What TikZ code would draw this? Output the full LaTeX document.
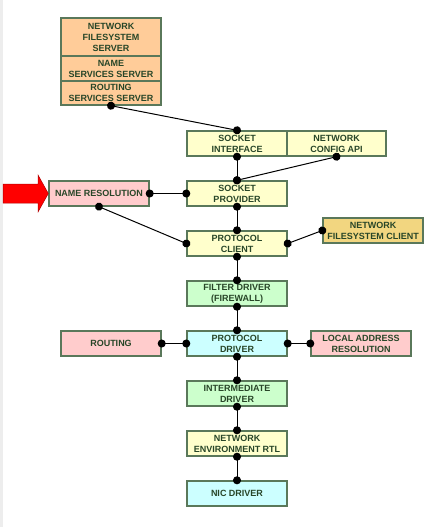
\documentclass[tikz,border=0pt]{standalone}
\usepackage{fontspec}
\setmainfont{Liberation Sans}
\usetikzlibrary{arrows.meta}
\definecolor{boxline}{RGB}{90,120,90}
\definecolor{boxtext}{RGB}{40,70,40}
\definecolor{peach}{RGB}{255,204,153}
\definecolor{cream}{RGB}{255,255,204}
\definecolor{rose}{RGB}{255,204,204}
\definecolor{mint}{RGB}{204,255,204}
\definecolor{aqua}{RGB}{204,255,255}
\definecolor{gold}{RGB}{242,214,128}

\tikzset{
  blk/.style={draw=boxline,line width=1.4pt,minimum width=100pt,minimum height=25pt,
    inner sep=0pt,align=center,text=boxtext,font=\fontsize{9}{11}\selectfont\bfseries},
  link/.style={line width=1pt,{Circle[length=8pt]}-{Circle[length=8pt]},
    shorten <=-4pt,shorten >=-4pt}
}

\begin{document}
\begin{tikzpicture}[x=1pt,y=-1pt]
  \useasboundingbox (0,0) rectangle (429,527);
  \fill[black!7] (0,0) rectangle (3,527);

  % servers
  \node[blk,fill=peach,minimum height=38pt] (nfsrv) at (111,37) {NETWORK\\FILESYSTEM\\SERVER};
  \node[blk,fill=peach] (nssrv) at (111,68.5) {NAME\\SERVICES SERVER};
  \node[blk,fill=peach,minimum height=24pt] (rssrv) at (111,93) {ROUTING\\SERVICES SERVER};

  % stack
  \node[blk,fill=cream] (sockif) at (237,143.5) {SOCKET\\INTERFACE};
  \node[blk,fill=cream,minimum width=99pt] (netcfg) at (336.5,143.5) {NETWORK\\CONFIG API};
  \node[blk,fill=cream] (sockprov) at (237,193.5) {SOCKET\\PROVIDER};
  \node[blk,fill=rose] (nameres) at (99,193.5) {NAME RESOLUTION};
  \node[blk,fill=cream] (protcl) at (237,243.5) {PROTOCOL\\CLIENT};
  \node[blk,fill=gold] (nfscl) at (373,230.5) {NETWORK\\FILESYSTEM CLIENT};
  \node[blk,fill=mint] (filter) at (237,293.5) {FILTER DRIVER\\(FIREWALL)};
  \node[blk,fill=aqua] (protdrv) at (237,343.5) {PROTOCOL\\DRIVER};
  \node[blk,fill=rose] (routing) at (111,343.5) {ROUTING};
  \node[blk,fill=rose] (locaddr) at (361,343.5) {LOCAL ADDRESS\\RESOLUTION};
  \node[blk,fill=mint] (interm) at (237,393.5) {INTERMEDIATE\\DRIVER};
  \node[blk,fill=cream] (envrtl) at (237,443.5) {NETWORK\\ENVIRONMENT RTL};
  \node[blk,fill=aqua] (nicdrv) at (237,493.5) {NIC DRIVER};

  % arrow into name resolution
  \filldraw[fill=red,draw=red!70!black,line width=0.5pt]
    (3,184) -- (38,184) -- (38,175) -- (nameres.west) -- (38,212) -- (38,203) -- (3,203) -- cycle;

  \path[link]
    (rssrv.south) edge (sockif.north)
    (sockif.south) edge (sockprov.north)
    (netcfg.south) edge (sockprov.north)
    (nameres.east) edge (sockprov.west)
    (nameres.south) edge (protcl.west)
    (sockprov.south) edge (protcl.north)
    (protcl.east) edge (nfscl.west)
    (protcl.south) edge (filter.north)
    (filter.south) edge (protdrv.north)
    (routing.east) edge (protdrv.west)
    (protdrv.east) edge (locaddr.west)
    (protdrv.south) edge (interm.north)
    (interm.south) edge (envrtl.north)
    (envrtl.south) edge (nicdrv.north);
\end{tikzpicture}
\end{document}
